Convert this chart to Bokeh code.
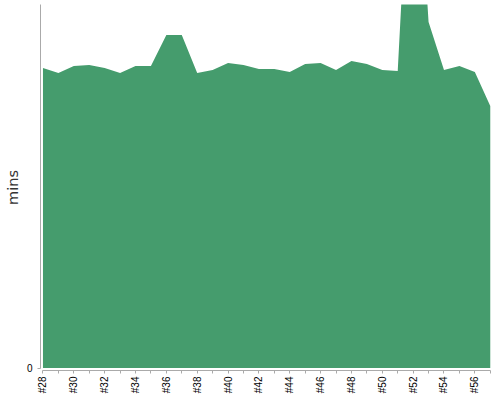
import math
from bokeh.plotting import figure
from bokeh.models import Range1d, FixedTicker, ColumnDataSource
from bokeh.embed import file_html
from bokeh.resources import INLINE

# Data, value in mins
builds = [f"#{n}" for n in range(28, 58)]
mins = [30.0, 29.5, 30.2, 30.3, 30.0, 29.5, 30.2, 30.2, 33.3, 33.3,
        29.5, 29.8, 30.5, 30.3, 29.9, 29.9, 29.6, 30.4, 30.5, 29.8,
        30.7, 30.4, 29.8, 29.7, 59.0, 34.6, 29.8, 30.2, 29.6, 26.2]

idx = list(range(len(builds)))
zeros = [0.0] * len(builds)
src = ColumnDataSource(dict(x=idx, y=mins, base=zeros))

p = figure(width=500, height=400, output_backend="svg", toolbar_location=None,
           x_range=Range1d(-0.16, 29.08), y_range=Range1d(-0.25, 36.35),
           min_border_left=40, min_border_top=4, min_border_right=9, min_border_bottom=30)

p.varea(x="x", y1="base", y2="y", source=src, fill_color="#459c6d", fill_alpha=1.0)

p.xgrid.visible = False
p.ygrid.visible = False
p.outline_line_color = None
p.background_fill_color = "white"
p.border_fill_color = "white"

xa = p.xaxis[0]
xa.ticker = FixedTicker(ticks=idx)
xa.major_label_overrides = {i: (builds[i] if i % 2 == 0 else "") for i in idx}
xa.major_label_orientation = math.pi / 2
xa.minor_tick_line_color = None
xa.major_tick_in = 0
xa.major_tick_out = 3
xa.major_label_standoff = 3
xa.axis_line_color = "#aaaaaa"
xa.major_tick_line_color = "#aaaaaa"
xa.major_label_text_font = "Liberation Sans"
xa.major_label_text_font_size = "10px"
xa.major_label_text_color = "#000000"
xa.bounds = (0, 29)

ya = p.yaxis[0]
ya.ticker = FixedTicker(ticks=[0])
ya.minor_tick_line_color = None
ya.major_tick_in = 0
ya.major_tick_out = 3
ya.major_label_standoff = 5
ya.axis_line_color = "#aaaaaa"
ya.major_tick_line_color = "#aaaaaa"
ya.major_label_text_font = "Liberation Sans"
ya.major_label_text_font_size = "10px"
ya.major_label_text_color = "#000000"
ya.axis_label = "mins"
ya.axis_label_text_font = "DejaVu Sans"
ya.axis_label_text_font_size = "14.5px"
ya.axis_label_text_font_style = "normal"
ya.axis_label_text_color = "#333333"
ya.axis_label_standoff = 3
ya.bounds = (0, 36.35)

open("out.html", "w").write(file_html(p, INLINE))
